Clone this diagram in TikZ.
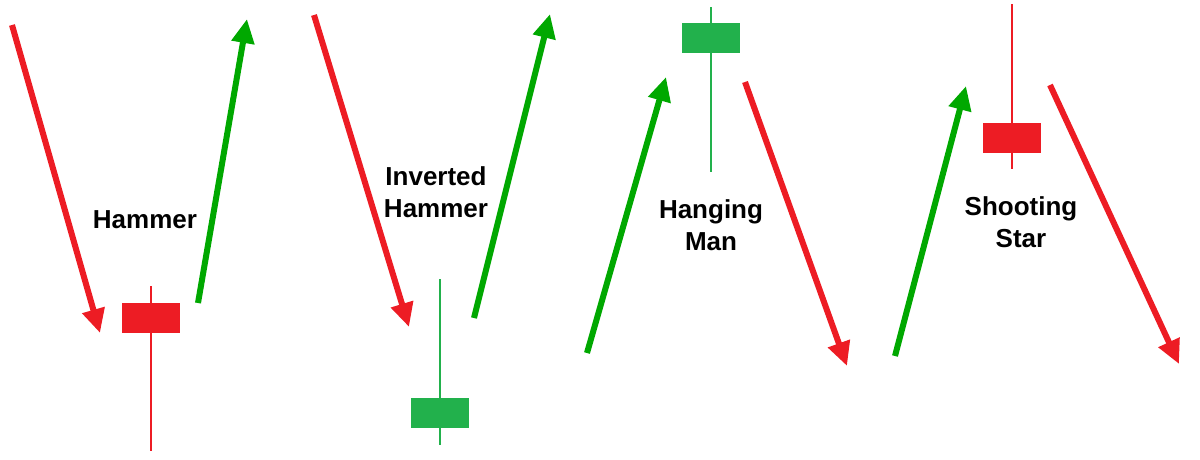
\documentclass[tikz,border=0pt]{standalone}
\usepackage{fontspec}
\setmainfont{Liberation Sans}
\usetikzlibrary{arrows.meta}
\definecolor{bearred}{RGB}{237,28,36}
\definecolor{bullgreen}{RGB}{0,168,0}
\definecolor{candlegreen}{RGB}{34,177,76}

\begin{document}
\begin{tikzpicture}[x=1pt,y=-1pt,
  trend/.style={line width=6pt,-{Triangle[length=24pt,width=22pt]}},
  fall/.style={trend,bearred},
  rise/.style={trend,bullgreen},
  wick/.style={line width=2pt},
  body/.style={minimum width=58pt,minimum height=30pt,inner sep=0pt},
  pattern/.style={font=\bfseries\fontsize{26}{32}\selectfont,align=center}]
  \useasboundingbox (0,0) rectangle (1200,459);
  % hammer
  \coordinate (hamin) at (12,25);
  \coordinate (hamdown) at (100,333);
  \coordinate (hamup) at (198,303);
  \coordinate (hamout) at (247,19);
  \draw[fall] (hamin) -- (hamdown);
  \draw[rise] (hamup) -- (hamout);
  \draw[wick,bearred] (151,286) -- (151,451);
  \node[body,fill=bearred] (hambody) at (151,317.5) {};
  \node[pattern] (hamlabel) at (145,220) {Hammer};
  % inverted hammer
  \coordinate (invin) at (314,15);
  \coordinate (invdown) at (409,327);
  \coordinate (invup) at (474,318);
  \coordinate (invout) at (550,14);
  \draw[fall] (invin) -- (invdown);
  \draw[rise] (invup) -- (invout);
  \draw[wick,candlegreen] (440,279) -- (440,445);
  \node[body,fill=candlegreen] (invbody) at (440,413) {};
  \node[pattern] (invlabel) at (436,192) {Inverted\\Hammer};
  % hanging man
  \coordinate (hangin) at (587,353);
  \coordinate (hangup) at (666,77);
  \coordinate (hangdown) at (745,82);
  \coordinate (hangout) at (847,366);
  \draw[rise] (hangin) -- (hangup);
  \draw[fall] (hangdown) -- (hangout);
  \draw[wick,candlegreen] (711,7) -- (711,172);
  \node[body,fill=candlegreen] (hangbody) at (711,38) {};
  \node[pattern] (hanglabel) at (711,225) {Hanging\\Man};
  % shooting star
  \coordinate (starin) at (895,356);
  \coordinate (starup) at (966,86);
  \coordinate (stardown) at (1050,85);
  \coordinate (starout) at (1179,364);
  \draw[rise] (starin) -- (starup);
  \draw[fall] (stardown) -- (starout);
  \draw[wick,bearred] (1012,4) -- (1012,169);
  \node[body,fill=bearred] (starbody) at (1012,138) {};
  \node[pattern] (starlabel) at (1021,222) {Shooting\\Star};
\end{tikzpicture}
\end{document}
